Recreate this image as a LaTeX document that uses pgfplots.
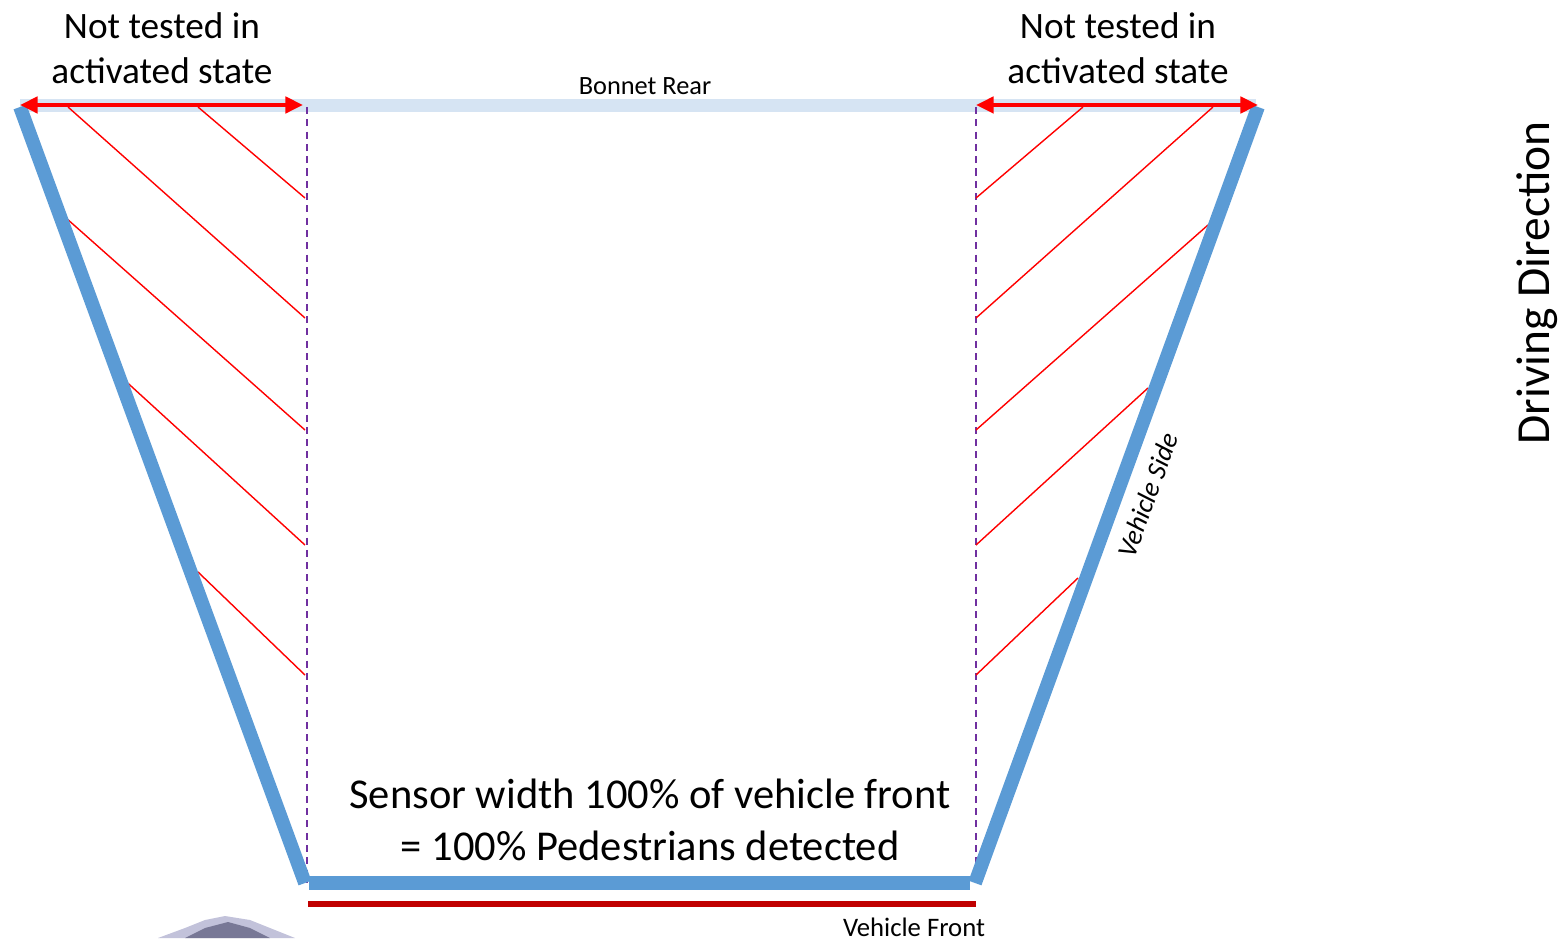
\documentclass[border=0pt]{standalone}
\usepackage{pgfplots}
\pgfplotsset{compat=1.18}
\usepackage{fontspec}
\setmainfont{Carlito}
\usetikzlibrary{arrows.meta}
\definecolor{vblue}{HTML}{5B9BD5}
\definecolor{lblue}{HTML}{D6E4F3}
\definecolor{dred}{HTML}{C00000}
\definecolor{vpurple}{HTML}{7030A0}
\begin{document}
\begin{tikzpicture}
\begin{axis}[
  width=15.62cm, height=9.38cm, scale only axis,
  xmin=0, xmax=1562, ymin=0, ymax=938, y dir=reverse,
  hide axis, clip=false]
% bonnet rear band
\addplot[lblue, line width=3.7pt, forget plot] coordinates {(20,106) (1256,106)};
% dashed sensor limits
\addplot[vpurple, line width=0.35pt, dash pattern=on 2pt off 1.5pt] coordinates {(307,107) (307,883)};
\addplot[vpurple, line width=0.35pt, dash pattern=on 2pt off 1.5pt] coordinates {(976,107) (976,883)};
% hatching left
\addplot[red, line width=0.4pt] coordinates {(198,107) (305,198)};
\addplot[red, line width=0.4pt] coordinates {(68,107) (305,318)};
\addplot[red, line width=0.4pt] coordinates {(66,218) (305,430)};
\addplot[red, line width=0.4pt] coordinates {(120,376) (305,545)};
\addplot[red, line width=0.4pt] coordinates {(198,572) (305,675)};
% hatching right
\addplot[red, line width=0.4pt] coordinates {(976,198) (1083,107)};
\addplot[red, line width=0.4pt] coordinates {(976,318) (1213,107)};
\addplot[red, line width=0.4pt] coordinates {(976,430) (1208,225)};
\addplot[red, line width=0.4pt] coordinates {(976,545) (1148,388)};
\addplot[red, line width=0.4pt] coordinates {(976,675) (1078,578)};
% vehicle outline
\addplot[vblue, line width=3.9pt] coordinates {(20,107) (305,883)};
\addplot[vblue, line width=3.9pt] coordinates {(309,883) (970,883)};
\addplot[vblue, line width=3.9pt] coordinates {(975,883) (1258,107)};
% vehicle front
\addplot[dred, line width=1.8pt] coordinates {(308,904) (976,904)};
% arrows
\addplot[red, line width=1.1pt, {Triangle[length=5pt,width=4.6pt]}-{Triangle[length=5pt,width=4.6pt]}] coordinates {(20,105) (303,105)};
\addplot[red, line width=1.1pt, {Triangle[length=5pt,width=4.6pt]}-{Triangle[length=5pt,width=4.6pt]}] coordinates {(976,105) (1258,105)};
% blurred shape at bottom
\addplot[fill=black!60!blue!40!white, draw=none, opacity=0.6] coordinates {(158,938) (185,928) (205,920) (225,916) (250,920) (270,928) (295,938)} -- cycle;
\addplot[fill=black!80!blue!60, draw=none, opacity=0.8] coordinates {(185,938) (205,928) (228,922) (250,928) (270,938)} -- cycle;
% texts
\node[align=center, font=\fontsize{10.6pt}{12.9pt}\selectfont] at (axis cs:162,48) {Not tested in\\activated state};
\node[align=center, font=\fontsize{10.6pt}{12.9pt}\selectfont] at (axis cs:1118,48) {Not tested in\\activated state};
\node[font=\fontsize{7.5pt}{9pt}\selectfont] at (axis cs:645,86) {Bonnet Rear};
\node[align=center, font=\fontsize{12.1pt}{14.6pt}\selectfont] at (axis cs:650,820) {Sensor width 100\% of vehicle front\\= 100\% Pedestrians detected};
\node[font=\fontsize{7.6pt}{9pt}\selectfont] at (axis cs:914,927) {Vehicle Front};
\node[rotate=70, font=\itshape\fontsize{7.8pt}{9pt}\selectfont] at (axis cs:1148,495) {Vehicle Side};
\node[rotate=90, font=\fontsize{13.5pt}{16pt}\selectfont] at (axis cs:1537,283) {Driving Direction};
\end{axis}
\pgfresetboundingbox
\path (current axis.south west) rectangle (current axis.north east);
\end{tikzpicture}
\end{document}
